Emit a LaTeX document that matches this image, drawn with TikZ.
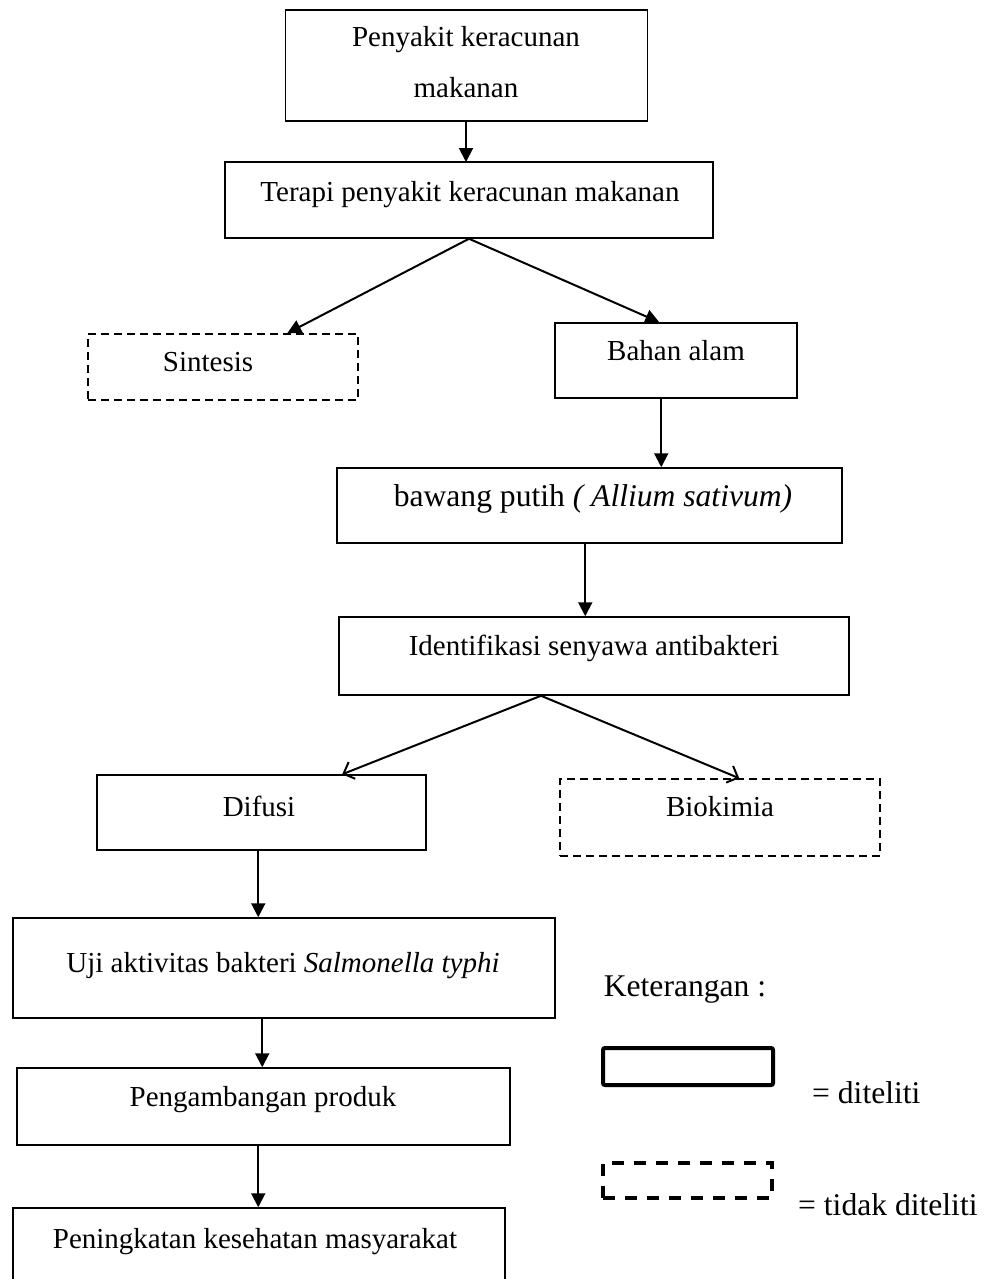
\documentclass[tikz,border=0pt]{standalone}
\usepackage{fontspec}
\setmainfont{Liberation Serif}
\usetikzlibrary{arrows.meta}
\begin{document}
\begin{tikzpicture}[x=1pt,y=-1pt,
  box/.style={draw, line width=1.5pt, rectangle, inner sep=0pt},
  dbox/.style={box, dash pattern=on 8pt off 5pt},
  txt/.style={anchor=base, inner sep=0pt, font=\fontsize{29}{35}\selectfont},
  btxt/.style={txt, font=\fontsize{31.6}{38}\selectfont},
  arr/.style={line width=2pt, -{Triangle[length=14pt,width=14pt]}},
  oarr/.style={line width=2pt, -{Straight Barb[length=9pt,width=18pt,line width=2pt]}},
  legsolid/.style={draw, line width=4pt, rounded corners=2pt},
  legdash/.style={draw, line width=4pt, dash pattern=on 12pt off 10pt},
]
\useasboundingbox (0,0) rectangle (987,1279);
\fill[white] (0,0) rectangle (987,1279);

% boxes
\node[box, minimum width=362pt, minimum height=111pt] (b1) at (466.5,65.5) {};
\node[box, minimum width=488pt, minimum height=76pt] (b2) at (469,200) {};
\node[dbox, minimum width=270pt, minimum height=66pt] (b3) at (223,367) {};
\node[box, minimum width=242pt, minimum height=75pt] (b4) at (676,360.5) {};
\node[box, minimum width=505pt, minimum height=75pt] (b5) at (589.5,505.5) {};
\node[box, minimum width=510pt, minimum height=78pt] (b6) at (594,656) {};
\node[box, minimum width=329pt, minimum height=75pt] (b7) at (261.5,812.5) {};
\node[dbox, minimum width=320pt, minimum height=77pt] (b8) at (720,817.5) {};
\node[box, minimum width=542pt, minimum height=100pt] (b9) at (284,968) {};
\node[box, minimum width=493pt, minimum height=77pt] (b10) at (263.5,1106.5) {};
\node[box, minimum width=492pt, minimum height=90pt] (b11) at (259,1253) {};

% texts
\node[txt] (t1a) at (466,47) {Penyakit keracunan};
\node[txt] (t1b) at (466,98) {makanan};
\node[txt] (t2) at (470,201) {Terapi penyakit keracunan makanan};
\node[txt] (t3) at (208,371) {Sintesis};
\node[txt] (t4) at (676,360) {Bahan alam};
\node[btxt] (t5) at (593,506) {bawang putih \textit{( Allium sativum)}};
\node[txt] (t6) at (594,655) {Identifikasi senyawa antibakteri};
\node[txt] (t7) at (259,816) {Difusi};
\node[txt] (t8) at (720,816) {Biokimia};
\node[txt] (t9) at (283,972) {Uji aktivitas bakteri \textit{Salmonella typhi}};
\node[txt] (t10) at (263,1106) {Pengambangan produk};
\node[txt] (t11) at (255,1248) {Peningkatan kesehatan masyarakat};

% legend
\node[btxt] (k) at (685,996) {Keterangan :};
\node[legsolid, minimum width=170pt, minimum height=37pt, inner sep=0pt] (ls) at (688,1066.5) {};
\node[legdash, minimum width=169pt, minimum height=35pt, inner sep=0pt] (ld) at (687.5,1180.5) {};
\node[btxt, anchor=base west] (lt1) at (812,1103) {= diteliti};
\node[btxt, anchor=base west] (lt2) at (798,1215) {= tidak diteliti};

% connectors
\draw[arr] (b1.south -| 466,0) -- (466,162);
\draw[arr] (b2.south) -- ([xshift=200pt]b3.north west);
\draw[arr] (b2.south) -- ([xshift=105pt]b4.north west);
\draw[arr] ([xshift=107pt]b4.south west) -- ([xshift=107pt]b4.south west |- b5.north);
\draw[arr] ([xshift=249pt]b5.south west) -- ([xshift=249pt]b5.south west |- b6.north);
\draw[oarr] ([xshift=-53pt]b6.south) -- ([xshift=246pt]b7.north west);
\draw[oarr] ([xshift=-53pt]b6.south) -- ([xshift=180pt]b8.north west);
\draw[arr] ([xshift=162pt]b7.south west) -- ([xshift=162pt]b7.south west |- b9.north);
\draw[arr] ([xshift=250pt]b9.south west) -- ([xshift=250pt]b9.south west |- b10.north);
\draw[arr] ([xshift=242pt]b10.south west) -- ([xshift=242pt]b10.south west |- b11.north);
\end{tikzpicture}
\end{document}
